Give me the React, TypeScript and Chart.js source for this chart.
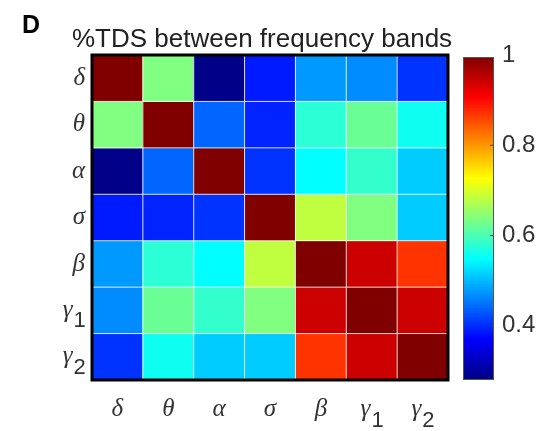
import React, { useEffect, useRef } from "react";
import { Chart, registerables } from "chart.js";

Chart.register(...registerables);

// ---- data ----
const bandSymbols = ["δ", "θ", "α", "σ", "β", "γ", "γ"];
const bandSubscripts = ["", "", "", "", "", "1", "2"];
const rowDelta = [1.0, 0.64, 0.287, 0.388, 0.478, 0.469, 0.406];
const rowTheta = [0.64, 1.0, 0.442, 0.395, 0.58, 0.625, 0.56];
const rowAlpha = [0.287, 0.442, 1.0, 0.406, 0.55, 0.586, 0.514];
const rowSigma = [0.388, 0.395, 0.406, 1.0, 0.685, 0.64, 0.514];
const rowBeta = [0.478, 0.58, 0.55, 0.685, 1.0, 0.946, 0.874];
const rowGamma1 = [0.469, 0.625, 0.586, 0.64, 0.946, 1.0, 0.946];
const rowGamma2 = [0.406, 0.56, 0.514, 0.514, 0.874, 0.946, 1.0];
const colorbarTicks = [0.4, 0.6, 0.8, 1];
const colorMin = 0.28;
const colorMax = 1;
const titleText = "%TDS between frequency bands";
const panelLetter = "D";

const matrix = [rowDelta, rowTheta, rowAlpha, rowSigma, rowBeta, rowGamma1, rowGamma2];
const SUB_GAP = "\u2002";
const tickText = (i: number) => bandSymbols[i] + (bandSubscripts[i] ? SUB_GAP : "");

const GREEK_FONT = "italic 25px 'Liberation Serif', 'Times New Roman', serif";
const SUB_FONT = "22px 'Liberation Sans', Arial, sans-serif";

const clamp = (v: number) => Math.max(0, Math.min(1, v));
function jet(t: number): string {
  t = clamp(t);
  const r = clamp(1.5 - Math.abs(4 * t - 3));
  const g = clamp(1.5 - Math.abs(4 * t - 2));
  const b = clamp(1.5 - Math.abs(4 * t - 1));
  return `rgb(${Math.round(r * 255)},${Math.round(g * 255)},${Math.round(b * 255)})`;
}
const valueColor = (v: number) => jet((v - colorMin) / (colorMax - colorMin));

const extrasPlugin = {
  id: "heatExtras",
  afterDatasetsDraw(chart: any) {
    const { ctx, chartArea: a, scales } = chart;
    const xs = scales.x;
    const ys = scales.y;
    const cb = scales.cb;
    const n = bandSymbols.length;
    ctx.save();
    // white separators between cells
    ctx.strokeStyle = "rgba(255,255,255,0.85)";
    ctx.lineWidth = 1;
    for (let i = 1; i < n; i++) {
      const px = (xs.getPixelForValue(i - 1) + xs.getPixelForValue(i)) / 2;
      ctx.beginPath();
      ctx.moveTo(px, a.top);
      ctx.lineTo(px, a.bottom);
      ctx.stroke();
      const py = ys.getPixelForValue(i);
      ctx.beginPath();
      ctx.moveTo(a.left, py);
      ctx.lineTo(a.right, py);
      ctx.stroke();
    }
    // black frame
    ctx.strokeStyle = "#000";
    ctx.lineWidth = 3;
    ctx.strokeRect(a.left, a.top, a.right - a.left, a.bottom - a.top);

    // colorbar
    const top = cb.getPixelForValue(colorMax) + 2;
    const bot = cb.getPixelForValue(colorMin);
    const left = a.right + 15;
    const w = 31;
    const grad = ctx.createLinearGradient(0, bot, 0, top);
    for (let i = 0; i <= 32; i++) grad.addColorStop(i / 32, jet(i / 32));
    ctx.fillStyle = grad;
    ctx.fillRect(left, top, w, bot - top);
    ctx.strokeStyle = "#555";
    ctx.lineWidth = 1;
    ctx.strokeRect(left + 0.5, top + 0.5, w - 1, bot - top - 1);
    ctx.strokeStyle = "#444";
    for (const t of colorbarTicks) {
      const py = cb.getPixelForValue(t);
      if (t >= colorMax) continue;
      ctx.beginPath();
      ctx.moveTo(left + w - 4, py);
      ctx.lineTo(left + w, py);
      ctx.stroke();
    }

    // subscripts of tick labels
    ctx.fillStyle = "#333";
    ctx.textAlign = "left";
    ctx.textBaseline = "alphabetic";
    for (let i = 0; i < n; i++) {
      const sub = bandSubscripts[i];
      if (!sub) continue;
      ctx.font = GREEK_FONT;
      const fullW = ctx.measureText(tickText(i)).width;
      const symW = ctx.measureText(bandSymbols[i]).width;
      ctx.font = SUB_FONT;
      // x axis
      const cx = xs.getPixelForTick(i);
      ctx.fillText(sub, cx - fullW / 2 + symW + 1, xs.top + 47);
      // y axis
      const cy = ys.getPixelForValue(i + 0.5);
      const labelRight = ys.right - 7;
      ctx.fillText(sub, labelRight - fullW + symW + 1, cy + 17);
    }

    // title and panel letter
    ctx.fillStyle = "#222";
    ctx.textBaseline = "alphabetic";
    ctx.textAlign = "left";
    ctx.font = "26px 'Liberation Sans', Arial, sans-serif";
    ctx.fillText(titleText, 72, 47);
    ctx.fillStyle = "#000";
    ctx.font = "bold 25px 'Liberation Sans', Arial, sans-serif";
    ctx.fillText(panelLetter, 22, 33);
    ctx.restore();
  },
};

export default function App() {
  const ref = useRef<HTMLCanvasElement | null>(null);
  useEffect(() => {
    if (!ref.current) return;
    const datasets = matrix.map((row, r) => ({
      label: bandSymbols[r] + bandSubscripts[r],
      data: row.map(() => [r, r + 1]),
      backgroundColor: row.map(valueColor),
      borderWidth: 0,
      grouped: false,
      categoryPercentage: 1,
      barPercentage: 1,
    }));
    const greekFont = { family: "'Liberation Serif', 'Times New Roman', serif", size: 25, style: "italic" as const };
    const chart = new Chart(ref.current, {
      type: "bar",
      data: { labels: bandSymbols.map((s, i) => s + bandSubscripts[i]), datasets: datasets as any },
      options: {
        animation: false,
        responsive: false,
        layout: { padding: { top: 55, left: 0, right: 0, bottom: 0 } },
        plugins: { legend: { display: false }, tooltip: { enabled: false }, title: { display: false } },
        scales: {
          x: {
            type: "category",
            offset: true,
            grid: { display: false, drawTicks: false },
            border: { display: false },
            ticks: {
              font: greekFont,
              color: "#333",
              padding: 14,
              maxRotation: 0,
              callback: (_v: any, i: number) => tickText(i),
            },
            afterFit: (s: any) => {
              s.height = 51;
              s.paddingLeft = 0;
              s.paddingRight = 0;
            },
          },
          y: {
            type: "linear",
            min: 0,
            max: bandSymbols.length,
            reverse: true,
            grid: { display: false, drawTicks: false },
            border: { display: false },
            afterBuildTicks: (s: any) => {
              s.ticks = bandSymbols.map((_, i) => ({ value: i + 0.5 }));
            },
            ticks: {
              font: greekFont,
              color: "#333",
              padding: 7,
              callback: (_v: any, i: number) => tickText(i),
            },
            afterFit: (s: any) => {
              s.width = 92;
              s.paddingTop = 0;
              s.paddingBottom = 0;
            },
          },
          cb: {
            type: "linear",
            position: "right",
            min: colorMin,
            max: colorMax,
            grid: { display: false, drawTicks: false },
            border: { display: false },
            afterBuildTicks: (s: any) => {
              s.ticks = colorbarTicks.map((v) => ({ value: v }));
            },
            ticks: {
              font: { family: "'Liberation Sans', Arial, sans-serif", size: 24 },
              color: "#333",
              padding: 54,
              callback: (v: any) => String(v),
            },
            afterFit: (s: any) => {
              s.width = 95;
              s.paddingTop = 0;
              s.paddingBottom = 0;
            },
          },
        },
      },
      plugins: [extrasPlugin],
    });
    return () => chart.destroy();
  }, []);
  return (
    <div style={{ position: "fixed", left: 0, top: 0, width: 543, height: 431, background: "#fff" }}>
      <canvas ref={ref} width={543} height={431} />
    </div>
  );
}
